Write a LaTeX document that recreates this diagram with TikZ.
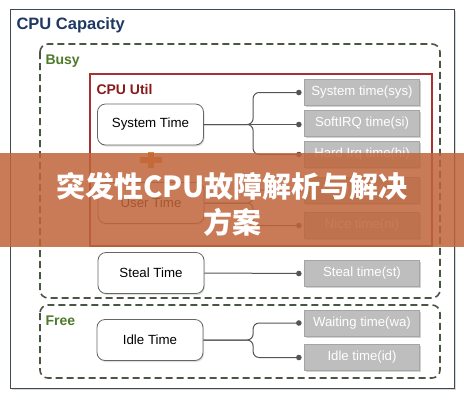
\documentclass[tikz,border=0pt]{standalone}
\usepackage{fontspec}
\setmainfont{Liberation Sans}
\newfontfamily\cjk{Noto Sans CJK SC}
\usetikzlibrary{shadows,arrows.meta}
\definecolor{outerc}{HTML}{3E4A55}
\definecolor{titlec}{HTML}{1F3864}
\definecolor{dashc}{HTML}{4A5644}
\definecolor{greenc}{HTML}{4E7A2C}
\definecolor{utilc}{HTML}{A83232}
\definecolor{utiltext}{HTML}{8B1A1A}
\definecolor{connc}{HTML}{555555}
\definecolor{grayfill}{HTML}{BEBEBE}
\definecolor{grayline}{HTML}{A5A5A5}
\definecolor{plusc}{HTML}{DD8A2A}
\definecolor{bannerc}{HTML}{C0653B}
\begin{document}
\begin{tikzpicture}[x=1pt,y=-1pt,
  tbox/.style={draw=gray!80!black, line width=0.8pt, rounded corners=8pt, fill=white,
    minimum width=106pt, minimum height=41pt, font=\fontsize{13.3}{15}\selectfont,
    drop shadow={opacity=0.25, shadow xshift=1pt, shadow yshift=-1.5pt}},
  gbox/.style={draw=grayline, line width=0.8pt, fill=grayfill, text=white,
    minimum width=115pt, minimum height=26pt, font=\fontsize{13.2}{15}\selectfont,
    drop shadow={opacity=0.35, shadow xshift=1.5pt, shadow yshift=-1.5pt}},
  conn/.style={draw=connc, line width=1pt, rounded corners=6pt, -{Circle[length=5.5pt]}},
  dashbox/.style={draw=dashc, line width=1.6pt, dash pattern=on 7pt off 4pt, rounded corners=8pt},
  grouplabel/.style={anchor=west, text=greenc, font=\fontsize{14}{16}\selectfont\bfseries},
]
\useasboundingbox (0,0) rectangle (464,400);
\fill[white] (0,0) rectangle (464,400);

% outer box
\draw[outerc, line width=0.8pt, fill=white, drop shadow={opacity=0.3, shadow xshift=2pt, shadow yshift=-2pt}] (10,9) rectangle (454,388);
\node[anchor=west, text=titlec, font=\fontsize{16.5}{18}\selectfont\bfseries] (title) at (13,25) {CPU Capacity};

% groups
\draw[dashbox] (40,44) rectangle (440,298);
\node[grouplabel] (busy) at (42,61) {Busy};
\draw[dashbox] (40,305) rectangle (440,378);
\node[grouplabel] (free) at (42,321) {Free};

% CPU Util
\draw[utilc, line width=1.2pt] (90,74) rectangle (432,246);
\node[anchor=west, text=utiltext, font=\fontsize{14}{16}\selectfont\bfseries] (util) at (93,89) {CPU Util};

% left boxes
\node[tbox] (systime) at (150.5,124.5) {System Time};
\node[tbox] (usertime) at (151,203) {User Time};
\node[tbox] (stealtime) at (151,273) {Steal Time};
\node[tbox] (idletime) at (150,340) {Idle Time};

% plus
\fill[plusc] (140,157) rectangle (162,163);
\fill[plusc] (148,152) rectangle (154,168);

% right boxes
\node[gbox] (gsys) at (362,92.5) {System time(sys)};
\node[gbox] (gsi) at (362,123.5) {SoftIRQ time(si)};
\node[gbox] (ghi) at (362,154.5) {Hard Irq time(hi)};
\node[gbox] (gus) at (362,190) {User time(us)};
\node[gbox] (gni) at (362,225.5) {Nice time(ni)};
\node[gbox] (gst) at (362,273.5) {Steal time(st)};
\node[gbox] (gwa) at (362,323) {Waiting time(wa)};
\node[gbox] (gid) at (362,357.5) {Idle time(id)};

% connectors
\draw[conn] (systime.east) -| ([xshift=-51pt]gsys.west) -- ([xshift=-2.5pt]gsys.west);
\draw[conn] (systime.east) -- ([xshift=-2.5pt]systime.east -| gsi.west);
\draw[conn] (systime.east) -| ([xshift=-51pt]ghi.west) -- ([xshift=-2.5pt]ghi.west);
\draw[conn] (usertime.east) -| ([xshift=-51pt]gus.west) -- ([xshift=-2.5pt]gus.west);
\draw[conn] (usertime.east) -| ([xshift=-51pt]gni.west) -- ([xshift=-2.5pt]gni.west);
\draw[conn] (stealtime.east) -- ([xshift=-2.5pt]gst.west);
\draw[conn] (idletime.east) -| ([xshift=-51pt]gwa.west) -- ([xshift=-2.5pt]gwa.west);
\draw[conn] (idletime.east) -| ([xshift=-51pt]gid.west) -- ([xshift=-2.5pt]gid.west);

% banner
\fill[bannerc, opacity=0.85] (0,153) rectangle (464,247);
\node[text=white, font=\cjk\bfseries\fontsize{29}{34}\selectfont] (banner1) at (232,186) {突发性CPU故障解析与解决};
\node[text=white, font=\cjk\bfseries\fontsize{29}{34}\selectfont] (banner2) at (232,222) {方案};
\end{tikzpicture}
\end{document}
